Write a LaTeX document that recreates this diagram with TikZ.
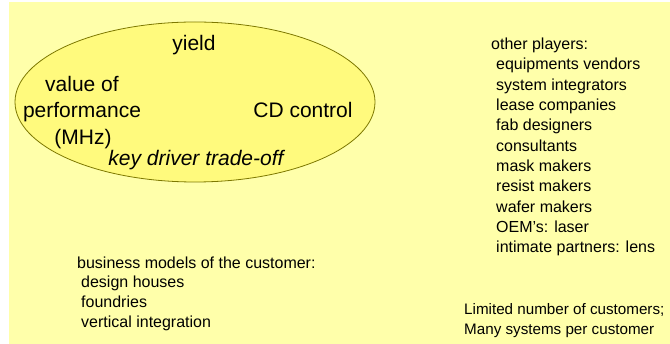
\documentclass[tikz,border=0pt]{standalone}
\usepackage{fontspec}
\setmainfont{Liberation Sans}
\definecolor{bgyellow}{RGB}{255,255,170}
\definecolor{ellfill}{RGB}{255,250,125}
\definecolor{ellline}{RGB}{125,120,0}
\begin{document}
\begin{tikzpicture}[x=1pt,y=-1pt,
  big/.style={font=\fontsize{21}{25}\selectfont, inner sep=0pt, anchor=base},
  item/.style={font=\fontsize{16}{20}\selectfont, inner sep=0pt, anchor=base west},
  smallitem/.style={font=\fontsize{15.2}{19}\selectfont, inner sep=0pt, anchor=base west}]
\useasboundingbox (0,0) rectangle (670,344);
\fill[bgyellow] (9,2) rectangle (670,344);
\draw[ellline, fill=ellfill, line width=0.8pt] (195,102) ellipse [x radius=180, y radius=80];
\node[big] (yield) at (194,51) {yield};
\node[big] (val1) at (82,92) {value of};
\node[big] (val2) at (82,118) {performance};
\node[big] (val3) at (83,145) {(MHz)};
\node[big] (cd) at (303,118) {CD control};
\node[big, font=\fontsize{21}{25}\selectfont\itshape] (key) at (196,166) {key driver trade-off};
% other players
\node[item] (op) at (491,50) {other players:};
\foreach \t [count=\i] in {equipments vendors, system integrators, lease companies, fab designers, consultants, mask makers, resist makers, wafer makers, OEM’s: laser, intimate partners: lens}
  \node[item] (op\i) at (496,{70+20.3*(\i-1)}) {\t};
% business models
\node[item] (bm) at (77,269) {business models of the customer:};
\node[item] (bm1) at (81,288) {design houses};
\node[item] (bm2) at (81,308) {foundries};
\node[item] (bm3) at (81,328) {vertical integration};
% customers
\node[smallitem] (lc1) at (464,315) {Limited number of customers;};
\node[smallitem] (lc2) at (464,335) {Many systems per customer};
\end{tikzpicture}
\end{document}
